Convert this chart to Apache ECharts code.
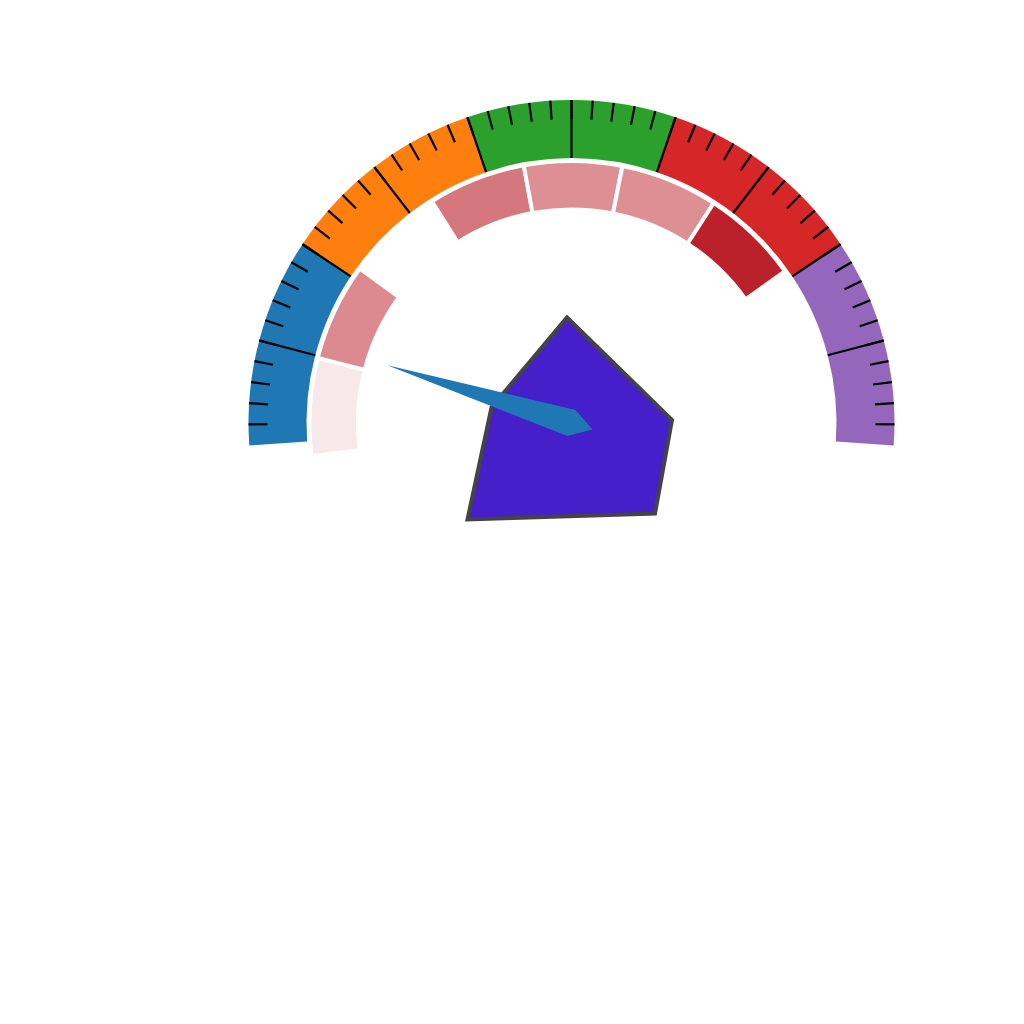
<!DOCTYPE html>
<html>
<head>
<meta charset="utf-8">
<script src="https://cdn.jsdelivr.net/npm/echarts@6/dist/echarts.min.js"></script>
<style>html,body{margin:0;padding:0;background:#fff;}#chart{width:1024px;height:1024px;}</style>
</head>
<body>
<div id="chart"></div>
<script>
// ---- data ----
const bandStops = [0.2, 0.4, 0.6, 0.8, 1.0];
const bandColors = ['#1f77b4', '#ff7f0e', '#2ca02c', '#d62728', '#9467bd'];
const needleValue = 11.4;            // on a 0..100 scale
const ringValues = [1, 1, 1, 1, 1, 1, 1];
const ringColors = ['#f7e9e9', '#dc8990', null, '#d5787e', '#dd8f94', '#dd8f94', '#bb212b'];
const polyX = [567, 672, 655, 467.5, 491.5];
const polyY = [317.5, 420, 513.5, 519.5, 407.5];

// ---- layout ----
const CX = 571.5, CY = 423;
const START = 184, END = -4;
const SPAN = START - END;
const minorStep = SPAN / 50;
const majorStep = SPAN / 10;

const chart = echarts.init(document.getElementById('chart'), null, {renderer: 'canvas'});

const gaugeBase = {
  type: 'gauge',
  center: [CX, CY],
  radius: 323,
  min: 0, max: 100,
  progress: {show: false},
  pointer: {show: false},
  anchor: {show: false},
  title: {show: false},
  detail: {show: false},
  axisLabel: {show: false},
  axisTick: {show: false},
  silent: true,
  animation: false
};

const option = {
  backgroundColor: '#ffffff',
  animation: false,
  grid: {left: 0, top: 0, right: 0, bottom: 0},
  xAxis: {type: 'value', min: 0, max: 1024, show: false},
  yAxis: {type: 'value', min: 0, max: 1024, inverse: true, show: false},
  series: [
    {
      type: 'custom',
      coordinateSystem: 'cartesian2d',
      silent: true,
      z: 1,
      data: [0],
      renderItem: function (params, api) {
        const pts = polyX.map((x, i) => api.coord([x, polyY[i]]));
        return {
          type: 'polygon',
          shape: {points: pts},
          style: {fill: '#441fca', stroke: '#444444', lineWidth: 4, lineJoin: 'miter'}
        };
      }
    },
    {
      type: 'pie',
      center: [CX, CY],
      radius: [213.5, 262],
      startAngle: 187.3,
      endAngle: 187.3 - 21.7 * ringValues.length,
      silent: true,
      label: {show: false},
      labelLine: {show: false},
      z: 1,
      data: ringValues.map((v, i) => ({
        value: v,
        itemStyle: ringColors[i]
          ? {color: ringColors[i], borderColor: '#ffffff', borderWidth: 4}
          : {color: 'rgba(0,0,0,0)', borderWidth: 0}
      }))
    },
    Object.assign({}, gaugeBase, {
      startAngle: START, endAngle: END,
      splitNumber: 10,
      axisLine: {show: true, roundCap: false, lineStyle: {width: 58, color: bandStops.map((s, i) => [s, bandColors[i]])}},
      splitLine: {show: false},
      z: 2,
      data: []
    }),
    Object.assign({}, gaugeBase, {
      startAngle: START - minorStep, endAngle: END + minorStep,
      splitNumber: 48,
      axisLine: {show: false, lineStyle: {width: 0}},
      splitLine: {show: true, distance: 0, length: 19, lineStyle: {color: '#000000', width: 2.2}},
      z: 3,
      data: []
    }),
    Object.assign({}, gaugeBase, {
      startAngle: START - majorStep, endAngle: END + majorStep,
      splitNumber: 8,
      axisLine: {show: false, lineStyle: {width: 0}},
      splitLine: {show: true, distance: 0, length: 58, lineStyle: {color: '#000000', width: 2.2}},
      z: 3,
      data: []
    }),
    Object.assign({}, gaugeBase, {
      startAngle: START, endAngle: END,
      axisLine: {show: false, lineStyle: {width: 0}},
      splitLine: {show: false},
      pointer: {
        show: true,
        icon: 'path://M13.7,0 L27.4,193 L13.7,215 L0,193 Z',
        length: 215,
        width: 27.4,
        offsetCenter: [0, 22],
        itemStyle: {color: '#1f77b4'}
      },
      z: 5,
      data: [{value: needleValue}]
    })
  ]
};
chart.setOption(option);
</script>
</body>
</html>
